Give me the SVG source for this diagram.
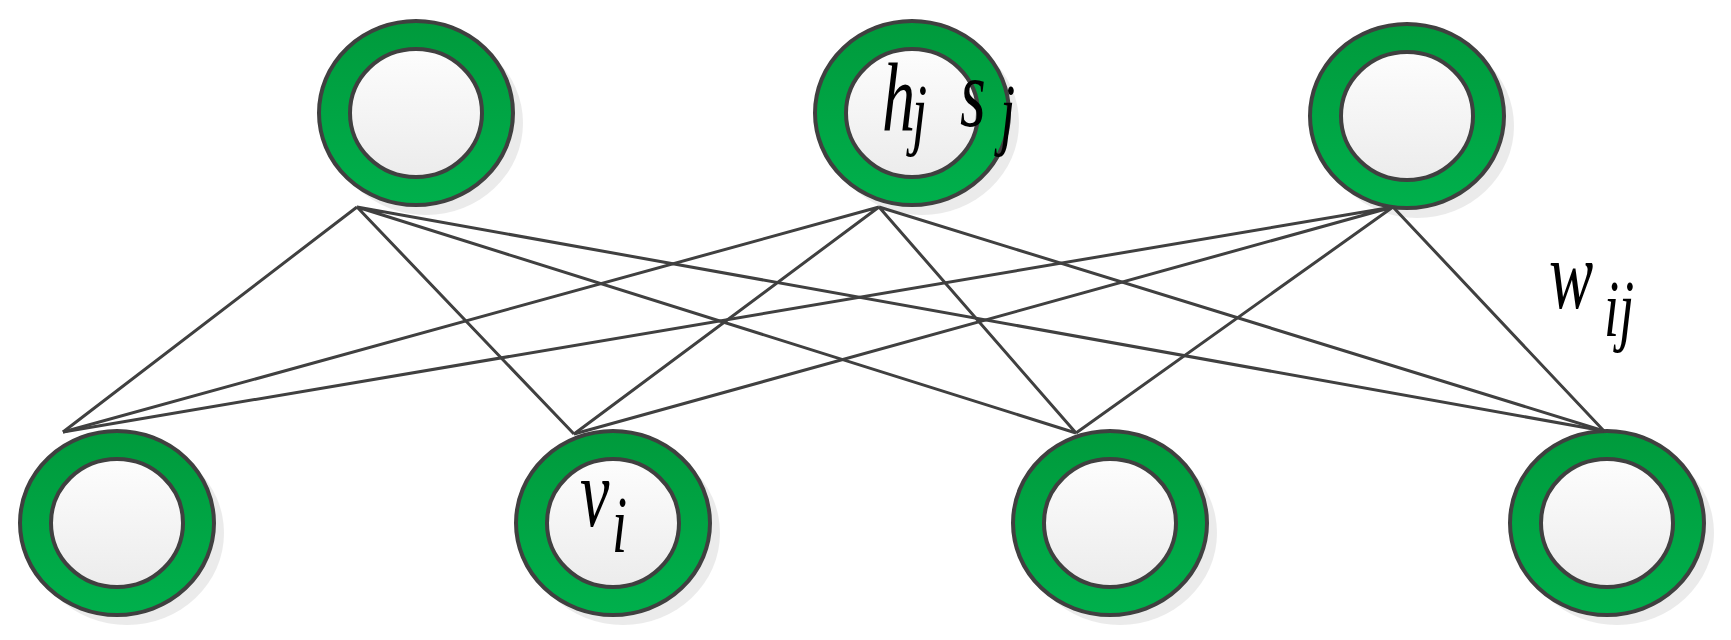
<svg xmlns="http://www.w3.org/2000/svg" width="1731" height="640" viewBox="0 0 1731 640">
<defs>
<linearGradient id="ring" x1="0" y1="0" x2="0" y2="1"><stop offset="0" stop-color="#009a3c"/><stop offset="1" stop-color="#00b04c"/></linearGradient>
<linearGradient id="inner" x1="0" y1="0" x2="0" y2="1"><stop offset="0" stop-color="#fdfdfd"/><stop offset="1" stop-color="#ececec"/></linearGradient>
<g id="node">
<ellipse cx="10" cy="10" rx="97" ry="92" fill="#d8d8d8" opacity="0.5"/>
<ellipse cx="0" cy="0" rx="97" ry="92" fill="url(#ring)" stroke="#404040" stroke-width="4"/>
<ellipse cx="0" cy="0" rx="66" ry="64" fill="url(#inner)" stroke="#404040" stroke-width="4"/>
</g>
</defs>
<style>
.e{stroke:#404040;stroke-width:3;fill:none}
.t{font-family:"Liberation Serif",serif;font-style:italic;fill:#000}
</style>
<rect width="1731" height="640" fill="#fff"/>
<g id="t1"><use href="#node" x="416" y="113"/></g>
<g id="t2"><use href="#node" x="912" y="113"/></g>
<g id="t3"><use href="#node" x="1407" y="116"/></g>
<g id="b1"><use href="#node" x="117" y="523"/></g>
<g id="b2"><use href="#node" x="613" y="523"/></g>
<g id="b3"><use href="#node" x="1110" y="523"/></g>
<g id="b4"><use href="#node" x="1607" y="523"/></g>
<g id="connectors" class="e">
<path d="M357 207L63 432M357 207L574 434M357 207L1076 433M357 207L1604 431"/>
<path d="M879 207L63 432M879 207L574 434M879 207L1076 433M879 207L1604 431"/>
<path d="M1393 207L63 432M1393 207L574 434M1393 207L1076 433M1393 207L1604 431"/>
</g>
<g id="labels">
<text class="t" font-size="78" transform="translate(882,130) scale(0.85,1.25)">h</text>
<text class="t" font-size="64" transform="translate(912,140) scale(0.85,1.25)">j</text>
<text class="t" font-size="78" transform="translate(960,126) scale(0.85,1.25)">s</text>
<text class="t" font-size="64" transform="translate(1000,140) scale(0.85,1.25)">j</text>
<text class="t" font-size="78" transform="translate(580,526) scale(0.85,1.25)">v</text>
<text class="t" font-size="64" transform="translate(612,552) scale(0.85,1.25)">i</text>
<text class="t" font-size="78" transform="translate(1549,308) scale(0.85,1.25)">w</text>
<text class="t" font-size="64" transform="translate(1604,336) scale(0.85,1.25)">ij</text>
</g>
</svg>
